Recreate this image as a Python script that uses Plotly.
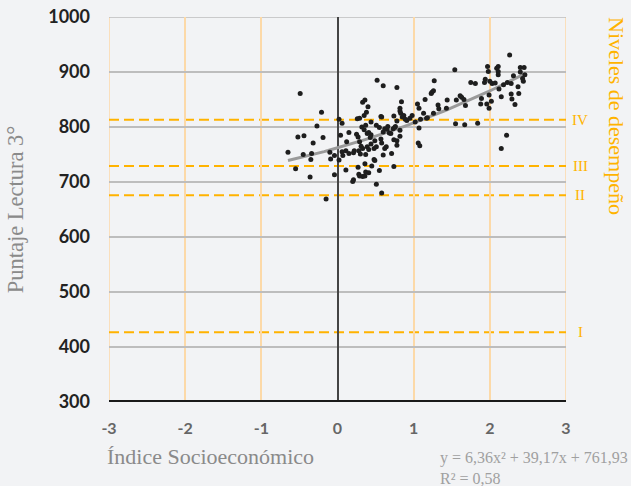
import plotly.graph_objects as go
import numpy as np

# Scatter data: socioeconomic index vs reading score
ise = [-0.65,-0.55,-0.49,-0.52,-0.44,-0.45,-0.36,-0.35,-0.34,-0.32,-0.27,-0.21,-0.19,-0.15,-0.10,-0.09,-0.04,-0.04,
       0.02,0.02,0.04,0.06,0.06,0.07,0.11,0.11,0.12,0.15,0.15,0.21,0.21,0.20,0.22,0.25,0.26,0.29,0.27,0.29,0.27,0.28,
       0.29,0.33,0.36,0.28,0.30,0.31,0.32,0.33,0.36,0.38,0.40,0.35,0.35,0.37,0.33,0.37,0.39,0.41,0.43,0.44,0.44,0.39,
       0.41,0.36,0.37,0.41,0.45,0.48,0.49,0.44,0.48,0.49,0.51,0.51,0.52,0.51,0.55,0.55,0.57,0.57,0.58,0.58,0.60,0.60,
       0.58,0.60,0.62,0.62,0.64,0.65,0.66,0.68,0.70,0.71,0.73,0.74,0.74,0.74,0.75,0.76,0.78,0.78,0.78,0.78,0.82,0.82,
       0.82,0.82,0.83,0.84,0.85,0.87,0.89,0.91,0.95,0.98,1.02,1.05,1.07,1.07,1.06,1.08,1.09,1.13,1.15,1.17,1.18,1.23,
       1.24,1.26,1.27,1.26,1.32,1.33,1.43,1.44,1.54,1.55,1.56,1.61,1.63,1.66,1.68,1.67,1.75,1.81,1.84,1.88,1.89,1.93,
       1.94,1.96,1.97,1.98,1.99,1.99,2.00,2.02,2.03,2.07,2.09,2.11,2.11,2.11,2.12,2.15,2.18,2.15,2.22,2.23,2.26,2.28,
       2.28,2.29,2.31,2.33,2.37,2.38,2.40,2.40,2.43,2.44,2.45,2.46]
puntaje = [754,724,861,782,784,750,709,741,752,771,802,827,781,669,754,742,713,748,
           814,740,785,807,755,748,757,722,773,790,752,753,704,701,757,787,815,816,782,773,727,714,
           711,710,711,757,751,765,800,845,849,827,837,821,795,803,761,750,788,790,781,786,769,764,
           759,733,718,717,729,741,739,809,761,775,764,803,885,696,799,721,778,819,818,771,875,749,
           680,791,761,797,764,796,801,789,788,752,797,777,820,728,799,801,767,775,811,872,794,783,
           834,829,825,846,818,821,814,812,816,821,809,842,798,834,771,766,814,825,850,816,817,861,
           863,866,884,825,840,833,834,849,904,806,849,857,854,850,839,804,881,879,807,842,852,881,
           887,842,910,901,858,834,883,847,879,880,907,910,901,895,869,855,877,761,785,881,931,879,
           860,851,893,841,873,861,908,900,888,883,908,895]

# Quadratic trend: y = 6.36x^2 + 39.17x + 761.93
coef = [6.36, 39.17, 761.93]
trend_x = np.linspace(min(ise), max(ise), 60)
trend_y = coef[0]*trend_x**2 + coef[1]*trend_x + coef[2]

# Performance levels
niveles = ["IV", "III", "II", "I"]
cortes = [813, 729, 676, 427]

x_ticks = [-3, -2, -1, 0, 1, 2, 3]
x_ticktext = ["-3", "-2", "-1", "0", "1", "2", "3"]
y_ticks = [300, 400, 500, 600, 700, 800, 900, 1000]

BG = "#f2f3f5"
ORANGE = "#ffb300"
SERIF = "Liberation Serif"

fig = go.Figure()

fig.add_trace(go.Scatter(x=trend_x, y=trend_y, mode="lines",
                         line=dict(color="#9a9a9a", width=3), hoverinfo="skip", showlegend=False))
fig.add_trace(go.Scatter(x=ise, y=puntaje, mode="markers",
                         marker=dict(color="#1e1e1e", size=5), showlegend=False))

shapes = []
for xv in [-3, 3]:
    shapes.append(dict(type="line", xref="x", yref="y", x0=xv, x1=xv, y0=300, y1=1000,
                       line=dict(color="#fcd9a8", width=1.5), layer="below"))
shapes.append(dict(type="line", xref="x", yref="y", x0=-3, x1=3, y0=1000, y1=1000,
                   line=dict(color="#bdbdbd", width=1.5), layer="below"))
shapes.append(dict(type="line", xref="x", yref="y", x0=-3, x1=3, y0=700, y1=700,
                   line=dict(color="#444444", width=2), layer="below"))
for c in cortes:
    shapes.append(dict(type="line", xref="x", yref="y", x0=-3, x1=3, y0=c, y1=c,
                       line=dict(color=ORANGE, width=2, dash="10px,5px"), layer="below"))
shapes.append(dict(type="line", xref="x", yref="y", x0=-3, x1=3, y0=300, y1=300,
                   line=dict(color="#1a1a1a", width=4)))

annotations = []
for n, c in zip(niveles, cortes):
    annotations.append(dict(x=1, xref="paper", y=c, yref="y", text=n, showarrow=False,
                            xanchor="center", xshift=14,
                            font=dict(family=SERIF, size=15, color=ORANGE)))
annotations.append(dict(x=1, xref="paper", y=1, yref="paper", text="Niveles de desempeño",
                        showarrow=False, textangle=90, xanchor="center", yanchor="top",
                        xshift=51, yshift=2,
                        font=dict(family=SERIF, size=22, color=ORANGE)))
annotations.append(dict(x=0, xref="paper", y=0, yref="paper", text="Índice Socioeconómico",
                        showarrow=False, xanchor="left", yanchor="top", xshift=-4, yshift=-40,
                        font=dict(family=SERIF, size=22, color="#8a8a8a")))
annotations.append(dict(x=1, xref="paper", y=0, yref="paper",
                        text="y = 6,36x² + 39,17x + 761,93<br>R² = 0,58",
                        showarrow=False, xanchor="right", yanchor="top", align="left",
                        xshift=64, yshift=-45,
                        font=dict(family=SERIF, size=16, color="#a0a0a0")))

fig.update_layout(
    width=631, height=486,
    paper_bgcolor=BG, plot_bgcolor=BG,
    margin=dict(l=109, r=65, t=17, b=84, autoexpand=False),
    shapes=shapes, annotations=annotations,
    xaxis=dict(range=[-3, 3], tickvals=x_ticks, ticktext=x_ticktext, showgrid=True,
               gridcolor="#fcd9a8", gridwidth=1.5, automargin=False,
               zeroline=True, zerolinecolor="#444444", zerolinewidth=2,
               showline=False, ticks="", ticklabelstandoff=15,
               tickfont=dict(family="Lato", size=16, color="#666666", weight="bold")),
    yaxis=dict(range=[300, 1000], tickvals=y_ticks, showgrid=True, gridcolor="#bdbdbd", gridwidth=1.5,
               zeroline=False, showline=False, ticks="", ticklabelstandoff=18, automargin=False,
               title=dict(text="Puntaje Lectura 3°", standoff=18,
                          font=dict(family=SERIF, size=22.5, color="#8a8a8a")),
               tickfont=dict(family="Lato", size=18, color="#222222", weight="bold")),
)

fig.write_html("out.html", config={"displayModeBar": False},
               post_script="document.body.style.margin='0';document.body.style.background='%s';" % BG)
